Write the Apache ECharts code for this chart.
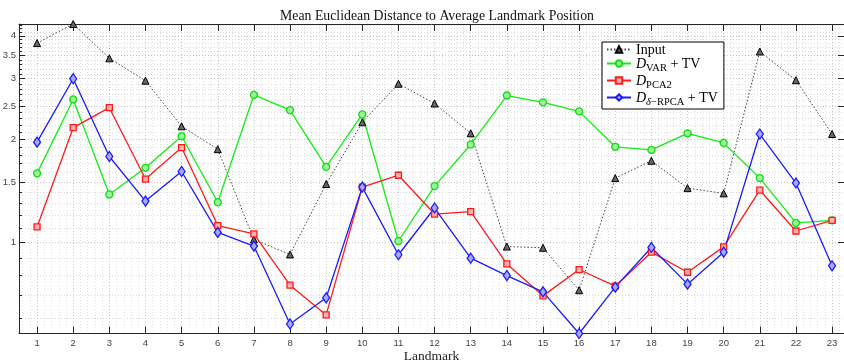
<!DOCTYPE html>
<html><head><meta charset="utf-8">
<script src="https://cdn.jsdelivr.net/npm/echarts@6/dist/echarts.min.js"></script>
<style>html,body{margin:0;padding:0;background:#fff}#c{width:844px;height:363px}</style>
</head><body><div id="c"></div>
<script>
const landmarks = [1,2,3,4,5,6,7,8,9,10,11,12,13,14,15,16,17,18,19,20,21,22,23];
const inputVals = [3.81,4.33,3.44,2.96,2.18,1.87,1.02,0.923,1.48,2.24,2.90,2.54,2.08,0.973,0.965,0.726,1.54,1.73,1.44,1.39,3.60,2.97,2.07];
const varTv   = [1.59,2.61,1.38,1.65,2.04,1.31,2.69,2.43,1.66,2.36,1.01,1.46,1.93,2.68,2.56,2.41,1.90,1.86,2.08,1.95,1.54,1.14,1.16];
const pca2    = [1.11,2.16,2.47,1.53,1.89,1.12,1.06,0.751,0.615,1.45,1.57,1.21,1.23,0.866,0.699,0.834,0.746,0.937,0.819,0.971,1.42,1.08,1.16];
const rpcaTv  = [1.96,3.00,1.78,1.32,1.61,1.07,0.976,0.579,0.690,1.45,0.921,1.26,0.900,0.801,0.718,0.543,0.741,0.967,0.756,0.937,2.07,1.49,0.855];
const yTickValues = [1,1.5,2,2.5,3,3.5,4];
const seriesNames = ['Input','D_VAR + TV','D_PCA2','D_δ-RPCA + TV'];

const allVals = inputVals.concat(varTv, pca2, rpcaTv);
const yMin = Math.min.apply(null, allVals);
const yMax = Math.max.apply(null, allVals);
const minorY = [];
for (let k = 5; k <= 45; k++) { const v = k / 10; if (yTickValues.indexOf(v) < 0 && v >= yMin && v <= yMax) minorY.push(v); }
const minorX = [];
for (let j = 3; j <= 116; j++) { if (j % 5 !== 0) minorX.push(j / 5); }

const pairs = arr => landmarks.map((l, i) => [l, arr[i]]);
const axisCol = '#262626';
const labelFont = { fontFamily: 'Liberation Sans', fontSize: 9.5, color: '#444' };

const legendLabels = {
  'Input': '{n|Input}',
  'D_VAR + TV': '{d|D}{s|VAR}{n| + TV}',
  'D_PCA2': '{d|D}{s|PCA2}',
  'D_δ-RPCA + TV': '{d|D}{si|δ}{s|−RPCA}{n| + TV}'
};

const chart = echarts.init(document.getElementById('c'), null, { renderer: 'canvas' });
chart.setOption({
  animation: false,
  backgroundColor: '#fff',
  title: {
    text: 'Mean Euclidean Distance to Average Landmark Position',
    left: 432, top: 4, textAlign: 'center',
    textStyle: { fontFamily: 'Liberation Serif', fontWeight: 'normal', fontSize: 13.8, color: '#111' }
  },
  grid: { left: 19, right: 0, top: 24, bottom: 29.5, containLabel: false, outerBoundsMode: 'none' },
  legend: {
    orient: 'vertical', left: 602, top: 42,
    backgroundColor: '#fff', borderColor: '#000', borderWidth: 1,
    padding: [1, 6, 1, 4], itemGap: 0, itemWidth: 24, itemHeight: 8,
    data: seriesNames,
    formatter: name => legendLabels[name],
    textStyle: {
      fontFamily: 'Liberation Serif', fontSize: 14, color: '#000',
      rich: {
        n: { fontFamily: 'Liberation Serif', fontSize: 14, color: '#000', verticalAlign: 'top', lineHeight: 13 },
        d: { fontFamily: 'Liberation Serif', fontStyle: 'italic', fontSize: 14, color: '#000', verticalAlign: 'top', lineHeight: 13 },
        s: { fontFamily: 'Liberation Serif', fontSize: 10.5, color: '#000', verticalAlign: 'top', lineHeight: 9, padding: [6, 0, 0, 0] },
        si: { fontFamily: 'Liberation Serif', fontStyle: 'italic', fontSize: 10.5, color: '#000', verticalAlign: 'top', lineHeight: 9, padding: [6, 0, 0, 0] }
      }
    }
  },
  xAxis: [
    {
      type: 'value', position: 'bottom', min: 0.5, max: 23.33,
      name: 'Landmark', nameLocation: 'middle', nameGap: 16, nameMoveOverlap: false,
      nameTextStyle: { fontFamily: 'Liberation Serif', fontSize: 13.5, color: '#222' },
      axisLine: { show: true, lineStyle: { color: axisCol, width: 1 } },
      axisTick: { show: true, inside: true, length: 7, customValues: landmarks, lineStyle: { color: axisCol } },
      axisLabel: { show: true, customValues: landmarks, margin: 5, ...labelFont },
      splitLine: { show: true, lineStyle: { type: [1, 2], color: '#c4c4c4', width: 1 } }
    },
    {
      type: 'value', position: 'bottom', min: 0.5, max: 23.33,
      axisLine: { show: false },
      axisTick: { show: false, customValues: minorX },
      axisLabel: { show: false, customValues: minorX },
      splitLine: { show: true, lineStyle: { type: [1, 2], color: '#e0e0e0', width: 1 } }
    },
    {
      type: 'value', position: 'top', min: 0.5, max: 23.33,
      axisLine: { show: true, lineStyle: { color: axisCol, width: 1 } },
      axisTick: { show: true, inside: true, length: 7, customValues: landmarks, lineStyle: { color: axisCol } },
      axisLabel: { show: false, customValues: landmarks },
      splitLine: { show: false }
    }
  ],
  yAxis: [
    {
      type: 'log', logBase: 10, position: 'left', min: yMin, max: yMax,
      axisLine: { show: true, lineStyle: { color: axisCol, width: 1 } },
      axisTick: { show: true, inside: true, length: 6, customValues: yTickValues, lineStyle: { color: axisCol } },
      axisLabel: { show: true, customValues: yTickValues, margin: 3, ...labelFont },
      splitLine: { show: true, lineStyle: { type: [1, 2], color: '#c4c4c4', width: 1 } }
    },
    {
      type: 'log', logBase: 10, position: 'left', min: yMin, max: yMax,
      axisLine: { show: false },
      axisTick: { show: true, inside: true, length: 3, customValues: minorY, lineStyle: { color: axisCol } },
      axisLabel: { show: false, customValues: minorY },
      splitLine: { show: true, lineStyle: { type: [1, 2], color: '#dadada', width: 1 } }
    },
    {
      type: 'log', logBase: 10, position: 'right', min: yMin, max: yMax,
      axisLine: { show: false },
      axisTick: { show: true, inside: true, length: 6, customValues: yTickValues, lineStyle: { color: axisCol } },
      axisLabel: { show: false, customValues: yTickValues },
      splitLine: { show: false }
    }
  ],
  series: [
    {
      name: 'Input', type: 'line', xAxisIndex: 0, yAxisIndex: 0, data: pairs(inputVals),
      symbol: 'triangle', symbolSize: 7,
      lineStyle: { color: '#444', width: 1, type: [1.5, 2] },
      itemStyle: { color: '#666', borderColor: '#000', borderWidth: 1 }
    },
    {
      name: 'D_VAR + TV', type: 'line', xAxisIndex: 0, yAxisIndex: 0, data: pairs(varTv),
      symbol: 'circle', symbolSize: 7,
      lineStyle: { color: '#11ee11', width: 1.3 },
      itemStyle: { color: '#9ff59f', borderColor: '#11dd11', borderWidth: 1.3 }
    },
    {
      name: 'D_PCA2', type: 'line', xAxisIndex: 0, yAxisIndex: 0, data: pairs(pca2),
      symbol: 'rect', symbolSize: 6,
      lineStyle: { color: '#ff1a1a', width: 1.3 },
      itemStyle: { color: '#ffb0b0', borderColor: '#ff1a1a', borderWidth: 1.3 }
    },
    {
      name: 'D_δ-RPCA + TV', type: 'line', xAxisIndex: 0, yAxisIndex: 0, data: pairs(rpcaTv),
      symbol: 'diamond', symbolSize: [7, 10],
      lineStyle: { color: '#1a1aff', width: 1.3 },
      itemStyle: { color: '#a8a8ff', borderColor: '#1a1aff', borderWidth: 1.3 }
    }
  ]
});
</script>
</body></html>
